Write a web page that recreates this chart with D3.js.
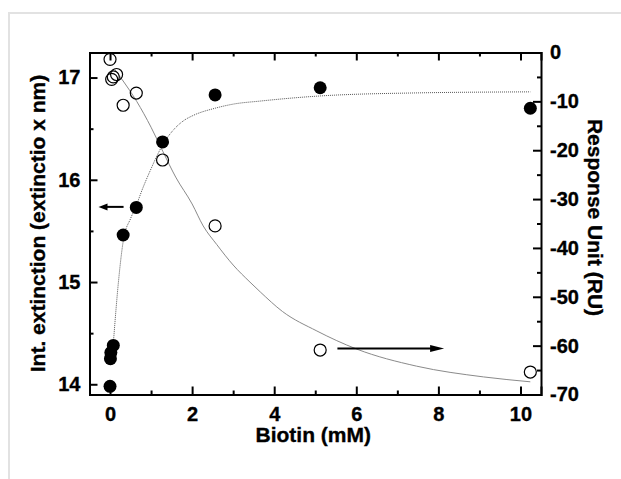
<!DOCTYPE html>
<html>
<head>
<meta charset="utf-8">
<script src="https://cdn.jsdelivr.net/npm/d3@7"></script>
<style>
  html, body { margin: 0; padding: 0; background: #fff; }
  svg { display: block; }
  text { font-family: "Liberation Sans", Arial, Helvetica, sans-serif; font-weight: bold; }
</style>
</head>
<body>
<svg id="chart" width="621" height="479"></svg>
<script>
// ---------- data ----------
const extX = [0, 0.01, 0.02, 0.08, 0.32, 0.64, 1.28, 2.56, 5.12, 10.24];
const extY = [13.98, 14.25, 14.31, 14.38, 15.46, 15.73, 16.37, 16.83, 16.90, 16.70];

const ruX = [0, 0.04, 0.08, 0.16, 0.32, 0.64, 1.28, 2.56, 5.12, 10.24];
const ruY = [-1.4, -5.5, -5.0, -4.5, -10.8, -8.3, -22.0, -35.5, -60.9, -65.4];

// fitted curves
const extFitX = [0.09, 0.2, 0.33, 0.5, 0.64, 0.8, 0.98, 1.15, 1.28, 1.55, 1.8, 2.03, 2.56, 3.0, 3.66, 5.12, 7.5, 10.24];
const extFitY = [14.45, 14.98, 15.42, 15.62, 15.75, 15.92, 16.09, 16.24, 16.34, 16.49, 16.58, 16.63, 16.70, 16.74, 16.77, 16.82, 16.85, 16.86];

const ruFitX = [0.12, 0.3, 0.65, 1.0, 1.29, 1.6, 2.0, 2.27, 2.6, 3.0, 3.41, 3.66, 4.2, 5.04, 6.01, 7.47, 9.10, 10.24];
const ruFitY = [-3.5, -5.6, -10.0, -15.3, -20.3, -25.5, -31.0, -35.5, -39.3, -43.5, -47.0, -49.0, -53.0, -57.0, -60.7, -64.2, -66.4, -67.4];

const xTicks = [0, 2, 4, 6, 8, 10];
const xMinor = [1, 3, 5, 7, 9];
const leftTicks = [14, 15, 16, 17];
const leftMinor = [14.5, 15.5, 16.5];
const rightTicks = [0, -10, -20, -30, -40, -50, -60, -70];
const rightMinor = [-5, -15, -25, -35, -45, -55, -65];

// annotation arrows (data coordinates)
const leftArrow = { x1: 0.33, x2: -0.28, y: 15.735 };   // left axis
const rightArrow = { x1: 5.54, x2: 8.14, y: -60.6 };    // right axis

const xTitle = "Biotin (mM)";
const leftTitle = "Int. extinction (extinctio x nm)";
const rightTitle = "Response Unit (RU)";

// ---------- layout ----------
const W = 621, H = 479;
const L = 89.5, R = 541, T = 52.5, B = 394.5;
const FONT = '"Liberation Sans", Arial, Helvetica, sans-serif';

const svg = d3.select("#chart");
svg.append("rect").attr("width", W).attr("height", H).attr("fill", "#fff");
// light outer frame
svg.append("path").attr("d", `M9,${H} V13 H${W}`).attr("fill", "none")
  .attr("stroke", "#e2e2e2").attr("stroke-width", 2);

const x = d3.scaleLinear().domain([-0.5, 10.5]).range([L, R]);
const yL = d3.scaleLinear().domain([13.9, 17.245]).range([B, T]);
const yR = d3.scaleLinear().domain([-70, 0]).range([B, T]);

const fmt = d => String(d);   // plain hyphen-minus like the original

function styleAxis(g) {
  g.attr("font-family", FONT).attr("font-size", 20);
  g.selectAll("path").attr("stroke", "#000").attr("stroke-width", 2);
  g.selectAll("line").attr("stroke", "#000").attr("stroke-width", 2);
  g.selectAll("text").attr("fill", "#000").style("font-size", "20px")
    .style("font-family", FONT).style("font-weight", "bold")
    .attr("stroke", "#000").attr("stroke-width", 0.35);
}

// bottom
svg.append("g").attr("transform", `translate(0,${B})`)
  .call(d3.axisBottom(x).tickValues(xTicks).tickSize(-8).tickPadding(12).tickFormat(fmt))
  .call(styleAxis);
svg.append("g").attr("transform", `translate(0,${B})`)
  .call(d3.axisBottom(x).tickValues(xMinor).tickSize(-4).tickFormat(""))
  .call(styleAxis).select(".domain").remove();
// top
svg.append("g").attr("transform", `translate(0,${T})`)
  .call(d3.axisTop(x).tickValues(xTicks).tickSize(-8).tickFormat(""))
  .call(styleAxis);
svg.append("g").attr("transform", `translate(0,${T})`)
  .call(d3.axisTop(x).tickValues(xMinor).tickSize(-4).tickFormat(""))
  .call(styleAxis).select(".domain").remove();
// left
svg.append("g").attr("transform", `translate(${L},0)`)
  .call(d3.axisLeft(yL).tickValues(leftTicks).tickSize(-8).tickPadding(9).tickFormat(fmt))
  .call(styleAxis);
svg.append("g").attr("transform", `translate(${L},0)`)
  .call(d3.axisLeft(yL).tickValues(leftMinor).tickSize(-4).tickFormat(""))
  .call(styleAxis).select(".domain").remove();
// right
svg.append("g").attr("transform", `translate(${R},0)`)
  .call(d3.axisRight(yR).tickValues(rightTicks).tickSize(-8).tickPadding(9).tickFormat(fmt))
  .call(styleAxis);
svg.append("g").attr("transform", `translate(${R},0)`)
  .call(d3.axisRight(yR).tickValues(rightMinor).tickSize(-4).tickFormat(""))
  .call(styleAxis).select(".domain").remove();

// fit curves
const extFit = extFitX.map((d, i) => [d, extFitY[i]]);
const ruFit = ruFitX.map((d, i) => [d, ruFitY[i]]);
svg.append("path").datum(ruFit)
  .attr("d", d3.line().x(d => x(d[0])).y(d => yR(d[1])).curve(d3.curveMonotoneX))
  .attr("fill", "none").attr("stroke", "#8a8a8a").attr("stroke-width", 1);
svg.append("path").datum(extFit)
  .attr("d", d3.line().x(d => x(d[0])).y(d => yL(d[1])).curve(d3.curveMonotoneX))
  .attr("fill", "none").attr("stroke", "#555").attr("stroke-width", 1)
  .attr("stroke-dasharray", "1,1");

// points
const ext = extX.map((d, i) => [d, extY[i]]);
const ru = ruX.map((d, i) => [d, ruY[i]]);
svg.append("g").selectAll("circle").data(ru).join("circle")
  .attr("cx", d => x(d[0])).attr("cy", d => yR(d[1])).attr("r", 6)
  .attr("fill", "none").attr("stroke", "#000").attr("stroke-width", 1.2);
svg.append("g").selectAll("circle").data(ext).join("circle")
  .attr("cx", d => x(d[0])).attr("cy", d => yL(d[1])).attr("r", 6.5)
  .attr("fill", "#000");

// arrows
function arrow(x1, x2, yy, headLen, headHalf) {
  const dir = Math.sign(x2 - x1);
  svg.append("line").attr("x1", x1).attr("x2", x2 - dir * headLen * 0.8)
    .attr("y1", yy).attr("y2", yy).attr("stroke", "#000").attr("stroke-width", 2);
  svg.append("path")
    .attr("d", `M${x2},${yy} L${x2 - dir * headLen},${yy - headHalf} L${x2 - dir * headLen},${yy + headHalf} Z`)
    .attr("fill", "#000");
}
arrow(x(leftArrow.x1), x(leftArrow.x2), yL(leftArrow.y), 9, 3.5);
arrow(x(rightArrow.x1), x(rightArrow.x2), yR(rightArrow.y), 14, 3.5);

// titles
function title(sel) {
  return sel.attr("text-anchor", "middle").style("font-size", "21px")
    .style("font-family", FONT).style("font-weight", "bold")
    .attr("fill", "#000").attr("stroke", "#000").attr("stroke-width", 0.35);
}
svg.append("text").attr("x", (L + R) / 2 - 2).attr("y", 442).call(title).text(xTitle);
svg.append("text").attr("transform", `translate(45,${(T + B) / 2}) rotate(-90)`).call(title).text(leftTitle);
svg.append("text").attr("transform", `translate(588,${(T + B) / 2 - 6}) rotate(90)`).call(title).text(rightTitle);
</script>
</body>
</html>
